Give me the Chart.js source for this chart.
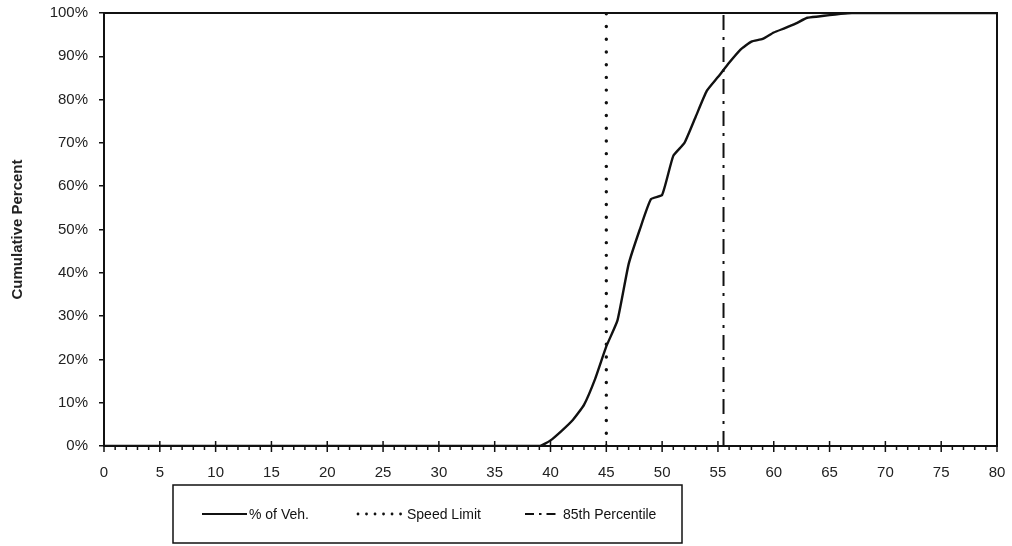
<!DOCTYPE html>
<html>
<head>
<meta charset="utf-8">
<title>Cumulative Speed Distribution</title>
<script src="https://cdn.jsdelivr.net/npm/chart.js@4.4.1/dist/chart.umd.min.js"></script>
<style>
  html, body { margin: 0; padding: 0; background: #fff; }
  #wrap { width: 1012px; height: 546px; }
</style>
</head>
<body>
<div id="wrap"><canvas id="speedChart" width="1012" height="546"></canvas></div>
<script>
// Speed (mph) and cumulative percent of vehicles at or below that speed
const speeds = [0, 39, 40, 41, 42, 43, 44, 45, 46, 47, 48, 49, 50, 51, 52, 53, 54, 55, 56, 57, 58, 59, 60, 61, 62, 63, 64, 65, 66, 67, 80];
const cumPercent = [0, 0, 1.3, 3.5, 6, 9.5, 15.5, 23, 29, 42, 50, 57, 58, 67, 70, 76, 82, 85.2, 88.5, 91.5, 93.4, 94, 95.5, 96.5, 97.6, 98.9, 99.2, 99.5, 99.8, 100, 100];

const speedLimit = 45;
const percentile85 = 55.5;

const xMin = 0, xMax = 80, xStep = 5;
const yMin = 0, yMax = 100, yStep = 10;

const seriesNames = ["% of Veh.", "Speed Limit", "85th Percentile"];

const FONT = "'Liberation Sans', Arial, sans-serif";
const INK = "#111";

// Vertical reference line from bottom to top of the y range
function verticalLine(xValue) {
  return [{ x: xValue, y: yMin }, { x: xValue, y: yMax }];
}

const dashStyles = {
  solid: [],
  dotted: [0.01, 12.7],
  dashDot: [15, 7, 3, 7],
};

// Draws the box round the plot and the x axis tick marks (major + minor)
const framePlugin = {
  id: "frame",
  afterDraw(chart) {
    const { ctx, chartArea: a, scales } = chart;
    const x = scales.x;
    ctx.save();
    ctx.strokeStyle = INK;
    ctx.lineWidth = 2;
    ctx.strokeRect(a.left, a.top, a.right - a.left, a.bottom - a.top);

    ctx.lineWidth = 1.5;
    for (let v = xMin; v <= xMax; v++) {
      const px = x.getPixelForValue(v);
      ctx.beginPath();
      if (v % xStep === 0) {
        ctx.moveTo(px, a.bottom - 5);
        ctx.lineTo(px, a.bottom + 6);
      } else {
        ctx.moveTo(px, a.bottom);
        ctx.lineTo(px, a.bottom + 4);
      }
      ctx.stroke();
    }
    ctx.restore();
  },
};

// Boxed legend underneath the plot, line samples taken from the datasets
const legendBoxPlugin = {
  id: "legendBox",
  afterDraw(chart) {
    const { ctx } = chart;
    const box = { left: 173, top: 485, right: 682, bottom: 543 };
    const midY = (box.top + box.bottom) / 2;
    const items = [
      { x0: 202, x1: 247, textX: 249 },
      { x0: 358, x1: 405, textX: 407 },
      { x0: 525, x1: 559, textX: 563 },
    ];
    const legendDash = [[], [0.01, 8.5], [9, 5, 2.5, 5]];

    ctx.save();
    ctx.strokeStyle = INK;
    ctx.lineWidth = 1.5;
    ctx.strokeRect(box.left, box.top, box.right - box.left, box.bottom - box.top);

    chart.data.datasets.forEach((ds, i) => {
      const it = items[i];
      ctx.beginPath();
      ctx.setLineDash(legendDash[i]);
      ctx.lineCap = ds.borderCapStyle || "butt";
      ctx.lineWidth = i === 1 ? 2.8 : 2.2;
      ctx.strokeStyle = ds.borderColor;
      ctx.moveTo(it.x0, midY);
      ctx.lineTo(it.x1, midY);
      ctx.stroke();

      ctx.setLineDash([]);
      ctx.fillStyle = INK;
      ctx.font = "14px " + FONT;
      ctx.textAlign = "left";
      ctx.textBaseline = "middle";
      ctx.fillText(ds.label, it.textX, midY + 1);
    });
    ctx.restore();
  },
};

const ctx = document.getElementById("speedChart").getContext("2d");

new Chart(ctx, {
  type: "line",
  data: {
    datasets: [
      {
        label: seriesNames[0],
        data: speeds.map((s, i) => ({ x: s, y: cumPercent[i] })),
        borderColor: INK,
        borderWidth: 2.4,
        borderDash: dashStyles.solid,
        pointRadius: 0,
        tension: 0.15,
        fill: false,
      },
      {
        label: seriesNames[1],
        data: verticalLine(speedLimit),
        borderColor: INK,
        borderWidth: 3.4,
        borderDash: dashStyles.dotted,
        borderCapStyle: "round",
        pointRadius: 0,
        fill: false,
      },
      {
        label: seriesNames[2],
        data: verticalLine(percentile85),
        borderColor: INK,
        borderWidth: 2,
        borderDash: dashStyles.dashDot,
        pointRadius: 0,
        fill: false,
      },
    ],
  },
  options: {
    responsive: false,
    animation: false,
    layout: { padding: { left: 0, right: 15, top: 13, bottom: 0 } },
    plugins: {
      legend: { display: false },
      tooltip: { enabled: false },
    },
    scales: {
      x: {
        type: "linear",
        min: xMin,
        max: xMax,
        afterFit(scale) {
          scale.height = 100;
          scale.paddingLeft = 0;
          scale.paddingRight = 0;
        },
        grid: { display: false },
        border: { display: true, color: INK, width: 2 },
        ticks: {
          stepSize: xStep,
          padding: 10,
          color: "#222",
          font: { family: FONT, size: 15 },
          maxRotation: 0,
        },
      },
      y: {
        type: "linear",
        min: yMin,
        max: yMax,
        afterFit(scale) {
          scale.width = 104;
          scale.paddingTop = 0;
          scale.paddingBottom = 0;
        },
        grid: {
          display: true,
          drawOnChartArea: false,
          drawTicks: true,
          tickLength: 5,
          color: INK,
          lineWidth: 1.5,
        },
        border: { display: true, color: INK, width: 2 },
        ticks: {
          stepSize: yStep,
          padding: 11,
          color: "#222",
          font: { family: FONT, size: 15 },
          callback: (v) => v + "%",
        },
        title: {
          display: true,
          text: "Cumulative Percent",
          color: "#222",
          font: { family: FONT, size: 15, weight: "bold" },
          padding: { top: 9, bottom: 0 },
        },
      },
    },
  },
  plugins: [framePlugin, legendBoxPlugin],
});
</script>
</body>
</html>
